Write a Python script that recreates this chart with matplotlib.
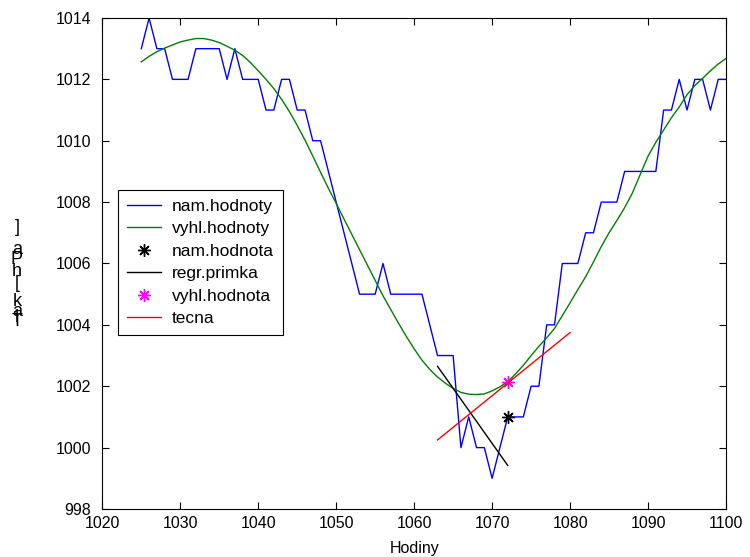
import matplotlib
matplotlib.use('Agg')
import matplotlib.pyplot as plt

plt.rcParams['font.family'] = ['Liberation Sans', 'DejaVu Sans']

# namerane hodnoty tlaku (kazdou hodinu)
hodiny = list(range(1025, 1101))
nam_hodnoty = [1013, 1014, 1013, 1013, 1012, 1012, 1012, 1013, 1013, 1013,
               1013, 1012, 1013, 1012, 1012, 1012, 1011, 1011, 1012, 1012,
               1011, 1011, 1010, 1010, 1009, 1008, 1007, 1006, 1005, 1005,
               1005, 1006, 1005, 1005, 1005, 1005, 1005, 1004, 1003, 1003,
               1003, 1000, 1001, 1000, 1000, 999, 1000, 1001, 1001, 1001,
               1002, 1002, 1004, 1004, 1006, 1006, 1006, 1007, 1007, 1008,
               1008, 1008, 1009, 1009, 1009, 1009, 1009, 1011, 1011, 1012,
               1011, 1012, 1012, 1011, 1012, 1012]
# vyhlazene hodnoty
vyhl_hodnoty = [1012.57, 1012.75, 1012.90, 1013.02, 1013.12, 1013.22, 1013.28,
                1013.33, 1013.33, 1013.28, 1013.20, 1013.08, 1012.95, 1012.78,
                1012.55, 1012.28, 1012.00, 1011.70, 1011.35, 1010.95, 1010.50,
                1010.02, 1009.50, 1008.97, 1008.45, 1007.96, 1007.45, 1006.95,
                1006.45, 1005.95, 1005.45, 1004.95, 1004.50, 1004.05, 1003.62,
                1003.22, 1002.85, 1002.55, 1002.30, 1002.10, 1001.93, 1001.80,
                1001.74, 1001.73, 1001.75, 1001.85, 1001.98, 1002.15, 1002.40,
                1002.68, 1003.00, 1003.30, 1003.58, 1003.88, 1004.30, 1004.72,
                1005.15, 1005.57, 1006.05, 1006.55, 1007.00, 1007.40, 1007.82,
                1008.30, 1008.90, 1009.50, 1009.95, 1010.35, 1010.75, 1011.10,
                1011.50, 1011.80, 1012.03, 1012.28, 1012.50, 1012.68]

bod_x = 1072
bod_nam = 1001
bod_vyhl = 1002.15

regr_x = [1063, 1072]
regr_y = [1002.65, 999.42]
tecna_x = [1063, 1080]
tecna_y = [1000.25, 1003.75]

fig = plt.figure(figsize=(7.5, 5.57), dpi=100)
ax = fig.add_axes([0.1364, 0.0862, 0.8316, 0.8815])

ax.plot(hodiny, nam_hodnoty, color='#0000ff', lw=1, label='nam.hodnoty')
ax.plot(hodiny, vyhl_hodnoty, color='#008000', lw=1, label='vyhl.hodnoty')
ax.plot([bod_x], [bod_nam], ls='none', marker=(8, 2, 0), ms=9, mew=1,
        color='k', label='nam.hodnota')
ax.plot(regr_x, regr_y, color='k', lw=1, label='regr.primka')
ax.plot([bod_x], [bod_vyhl], ls='none', marker=(8, 2, 0), ms=9, mew=1,
        color='#ff00ff', label='vyhl.hodnota')
ax.plot(tecna_x, tecna_y, color='#ff0000', lw=1, label='tecna')

ax.set_xlim(1020, 1100)
ax.set_ylim(998, 1014)
ax.set_xticks(range(1020, 1101, 10))
ax.set_yticks(range(998, 1015, 2))
ax.tick_params(direction='in', top=True, right=True, labelsize=11.5,
               length=5, pad=5)
ax.tick_params(axis='y', pad=8)
ax.set_xlabel('Hodiny', fontsize=11.5, labelpad=7)

leg = ax.legend(loc='upper left', bbox_to_anchor=(118 / 750, 1 - 190 / 557),
                bbox_transform=fig.transFigure, fontsize=12.5, fancybox=False,
                framealpha=1, edgecolor='k', borderpad=0.5, labelspacing=0.42,
                handlelength=1.95, handletextpad=0.65, borderaxespad=0)
leg.get_frame().set_linewidth(0.8)

# popisek osy y - znaky pod sebou jako v puvodnim obrazku
znaky = ['T', 'l', 'a', 'k', '[', 'h', 'P', 'a', ']']
pozice = [322, 317, 311, 302, 283, 271, 260, 249, 227]
for z, py in zip(znaky, pozice):
    fig.text(17 / 750, 1 - py / 557, z, ha='center', va='center', fontsize=13)

fig.savefig('out.png', dpi=100)
